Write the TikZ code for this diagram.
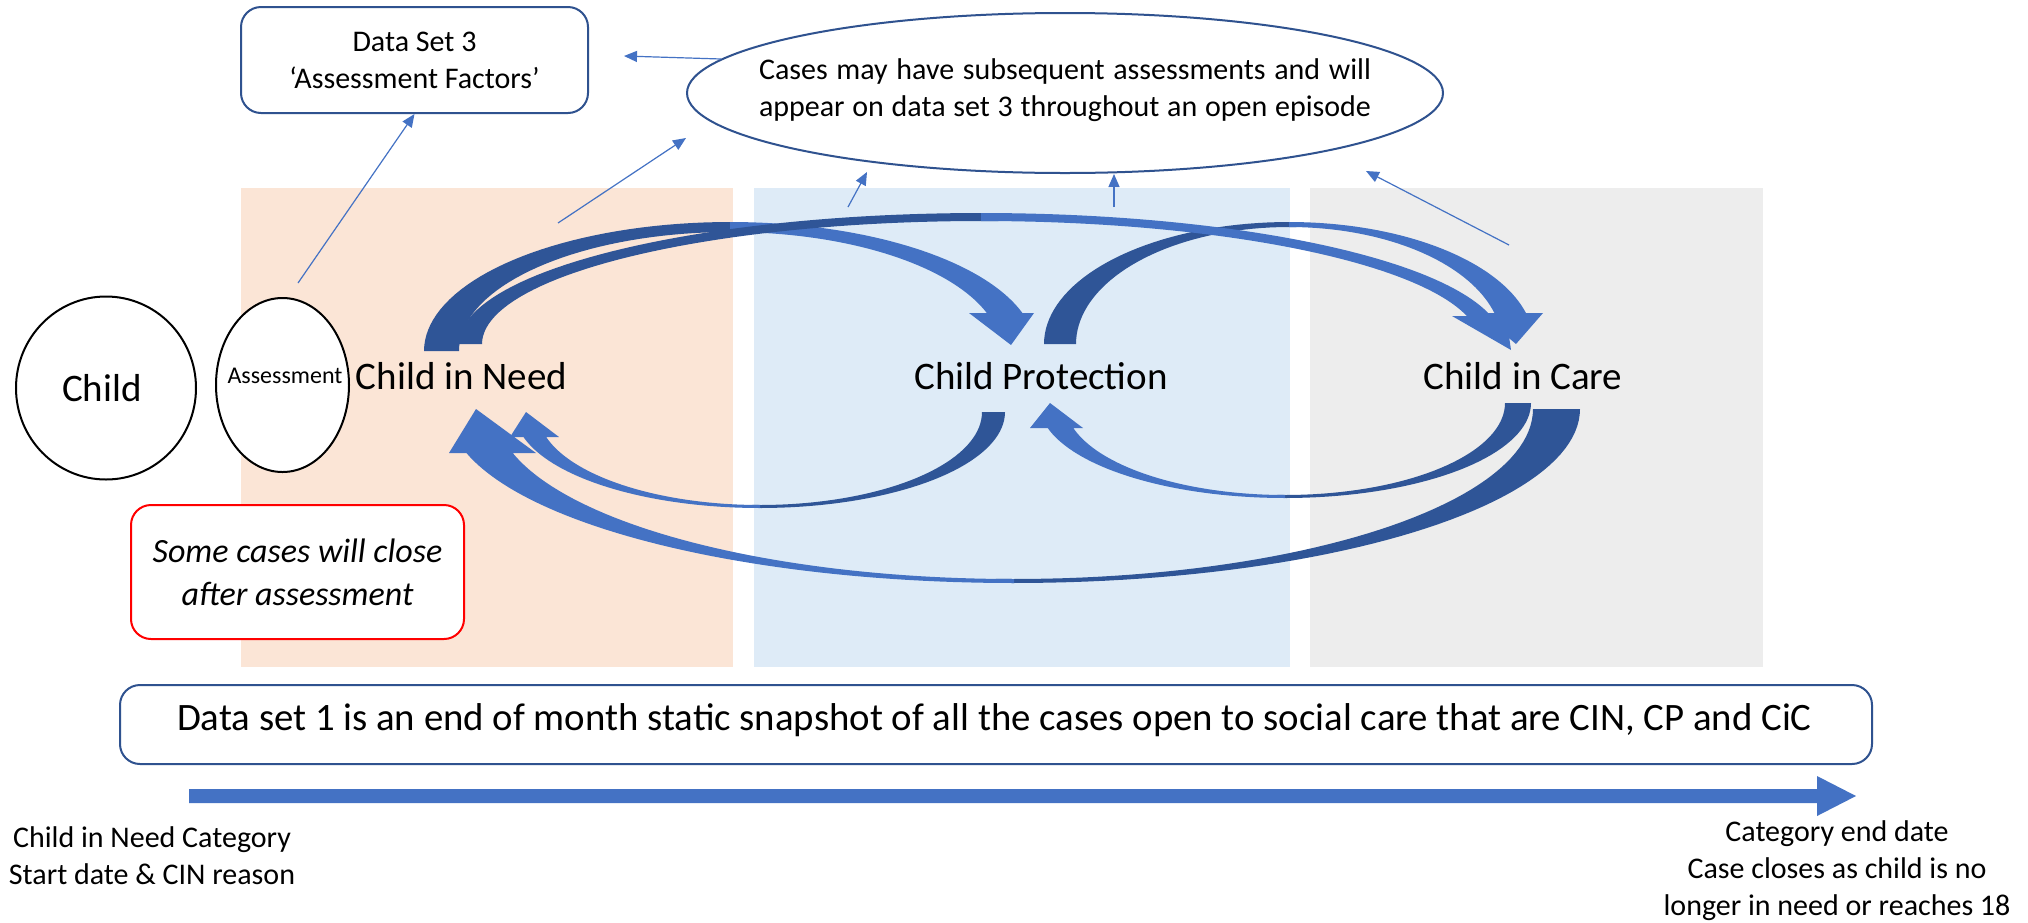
\documentclass[tikz,border=0pt]{standalone}
\usepackage{fontspec}
\setmainfont{Carlito}
\usetikzlibrary{arrows.meta,shapes.geometric}
\definecolor{orangebg}{HTML}{FBE5D6}
\definecolor{bluebg}{HTML}{DEEBF7}
\definecolor{greybg}{HTML}{EDEDED}
\definecolor{accent}{HTML}{4472C4}
\definecolor{accentdark}{HTML}{2F5597}
\definecolor{boxedge}{HTML}{2F528F}
\definecolor{redline}{HTML}{FF0000}
\begin{document}
\begin{tikzpicture}[x=0.5pt,y=0.5pt,
  thinarrow/.style={draw=accent,line width=0.6pt,-{Triangle[length=6.5pt,width=5.5pt]}},
  lightband/.style={fill=accent},
  darkband/.style={fill=accentdark},
  oval/.style={ellipse,draw=black,line width=1pt,fill=white,inner sep=0pt},
  bluebox/.style={draw=boxedge,line width=1pt,rounded corners=10pt,fill=white,align=center,inner sep=0pt},
  redbox/.style={draw=redline,line width=1pt,rounded corners=10pt,fill=white,align=center,inner sep=0pt},
  bigtxt/.style={inner sep=0pt,font=\fontsize{19.5}{23}\selectfont},
  midtxt/.style={inner sep=0pt,align=center,font=\fontsize{15}{18.5}\selectfont}]
\useasboundingbox (0,0) rectangle (2028,-922);
\fill[white] (0,0) rectangle (2028,-922);
% backgrounds
\fill[orangebg] (241,-188) rectangle (733,-667);
\fill[bluebg] (754,-188) rectangle (1290,-667);
\fill[greybg] (1310,-188) rectangle (1763,-667);
% ---- bottom curved arrows ----
% CiC -> CIN (big)
\fill[darkband] plot[domain=0:-92,samples=50] ({1014+566*cos(\x)},{-409+174*sin(\x)}) -- plot[domain=-92:0,samples=50] ({1014+519*cos(\x)},{-409+170*sin(\x)}) -- cycle;
\fill[lightband] plot[domain=-90:-165.35,samples=50] ({1014+566*cos(\x)},{-409+174*sin(\x)}) -- (449,-453) -- (476,-409) -- (536,-453) -- plot[domain=-165.0:-90,samples=50] ({1014+519*cos(\x)},{-409+170*sin(\x)}) -- cycle;
% CP -> CIN
\fill[darkband] plot[domain=0:-92,samples=40] ({760+245*cos(\x)},{-412+96*sin(\x)}) -- plot[domain=-92:0,samples=40] ({760+222*cos(\x)},{-412+93*sin(\x)}) -- cycle;
\fill[lightband] plot[domain=-90:-164.9,samples=40] ({760+245*cos(\x)},{-412+96*sin(\x)}) -- (510,-437) -- (526,-412) -- (559,-437) -- plot[domain=-164.4:-90,samples=40] ({760+222*cos(\x)},{-412+93*sin(\x)}) -- cycle;
% CiC -> CP
\fill[darkband] plot[domain=0:-92,samples=40] ({1285+246*cos(\x)},{-403+95*sin(\x)}) -- plot[domain=-92:0,samples=40] ({1285+220*cos(\x)},{-403+92*sin(\x)}) -- cycle;
\fill[lightband] plot[domain=-90:-164.74,samples=40] ({1285+246*cos(\x)},{-403+95*sin(\x)}) -- (1030,-428) -- (1050,-403) -- (1083,-428) -- plot[domain=-164.23:-90,samples=40] ({1285+220*cos(\x)},{-403+92*sin(\x)}) -- cycle;
% ---- top curved arrows ----
% CP -> CiC
\fill[darkband] plot[domain=180:88,samples=40] ({1289+245*cos(\x)},{-344+122*sin(\x)}) -- plot[domain=88:180,samples=40] ({1289+213*cos(\x)},{-344+117*sin(\x)}) -- cycle;
\fill[lightband] plot[domain=90:14.72,samples=40] ({1289+245*cos(\x)},{-344+122*sin(\x)}) -- (1543,-313) -- (1516,-344) -- (1479,-313) -- plot[domain=15.36:90,samples=40] ({1289+213*cos(\x)},{-344+117*sin(\x)}) -- cycle;
% CIN -> CP
\fill[darkband] plot[domain=180:88,samples=40] ({730+306*cos(\x)},{-351+129*sin(\x)}) -- plot[domain=88:180,samples=40] ({730+271*cos(\x)},{-351+119*sin(\x)}) -- cycle;
\fill[lightband] plot[domain=90:17.13,samples=40] ({730+306*cos(\x)},{-351+129*sin(\x)}) -- (1034,-313) -- (1011,-345) -- (969,-313) -- plot[domain=18.62:90,samples=40] ({730+271*cos(\x)},{-351+119*sin(\x)}) -- cycle;
% CIN -> CiC
\fill[darkband] plot[domain=180:88,samples=50] ({981+522*cos(\x)},{-344+131*sin(\x)}) -- plot[domain=88:180,samples=50] ({981+499*cos(\x)},{-344+123*sin(\x)}) -- cycle;
\fill[lightband] plot[domain=90:12.34,samples=50] ({981+522*cos(\x)},{-344+131*sin(\x)}) -- (1506,-316) -- (1511,-350) -- (1452,-316) -- plot[domain=13.16:90,samples=50] ({981+499*cos(\x)},{-344+123*sin(\x)}) -- cycle;
% ---- nodes ----
\node[oval,minimum width=90pt,minimum height=91.5pt] (child) at (106,-388) {};
\node[bigtxt] (childtxt) at (102,-388) {Child};
\node[oval,minimum width=66.5pt,minimum height=87pt] (asst) at (282.5,-385) {};
\node[inner sep=0pt,font=\fontsize{12}{14}\selectfont] (assttxt) at (285,-376) {Assessment};
\node[bigtxt] (cin) at (461.5,-376) {Child in Need};
\node[bigtxt] (cp) at (1041,-376) {Child Protection};
\node[bigtxt] (cic) at (1523,-376) {Child in Care};
\node[bluebox,minimum width=173.5pt,minimum height=53pt,font=\fontsize{15}{18.5}\selectfont] (ds3) at (414.5,-60) {Data Set 3\\‘Assessment Factors’};
\node[ellipse,draw=boxedge,line width=1pt,fill=white,minimum width=378pt,minimum height=80pt,inner sep=0pt] (cases) at (1065,-93) {};
\node[midtxt,align=left] (casestxt) at (1065,-90) {\makebox[306pt][s]{Cases may have subsequent assessments and will}\\\makebox[306pt][s]{appear on data set 3 throughout an open episode}};
\node[redbox,minimum width=166.5pt,minimum height=67pt,font=\itshape\fontsize{17}{21.5}\selectfont] (close) at (297.5,-572) {Some cases will close\\after assessment};
\node[bluebox,minimum width=876pt,minimum height=39.5pt] (ds1) at (996,-724.5) {};
\node[inner sep=0pt,font=\fontsize{19.4}{23}\selectfont] (ds1txt) at (994.5,-720) {Data set 1 is an end of month static snapshot of all the cases open to social care that are CIN, CP and CiC};
% ---- thin connectors ----
\coordinate (a1s) at (298,-283);
\draw[thinarrow] (a1s) -- (ds3.south);
\coordinate (a2s) at (721,-59);
\coordinate (a2e) at (624,-56);
\draw[thinarrow] (a2s) -- (a2e);
\coordinate (a3s) at (558,-223);
\coordinate (a3e) at (686,-138);
\draw[thinarrow] (a3s) -- (a3e);
\coordinate (a4s) at (848,-207);
\coordinate (a4e) at (867,-172);
\draw[thinarrow] (a4s) -- (a4e);
\coordinate (a5s) at (1114,-207);
\coordinate (a5e) at (1114,-174);
\draw[thinarrow] (a5s) -- (a5e);
\coordinate (a6s) at (1509,-245);
\coordinate (a6e) at (1366,-171);
\draw[thinarrow] (a6s) -- (a6e);
% ---- timeline ----
\coordinate (tl0) at (189,-796);
\coordinate (tl1) at (1856,-796);
\fill[accent] (189,-789) -- (1817,-789) -- (1817,-776) -- (tl1) -- (1817,-816) -- (1817,-803) -- (189,-803) -- cycle;
\node[midtxt] (startlbl) at (152,-856) {Child in Need Category\\Start date \& CIN reason};
\node[midtxt] (endlbl) at (1837,-871) {Category end date\\Case closes as child is no\\longer in need or reaches 18};
\end{tikzpicture}
\end{document}
